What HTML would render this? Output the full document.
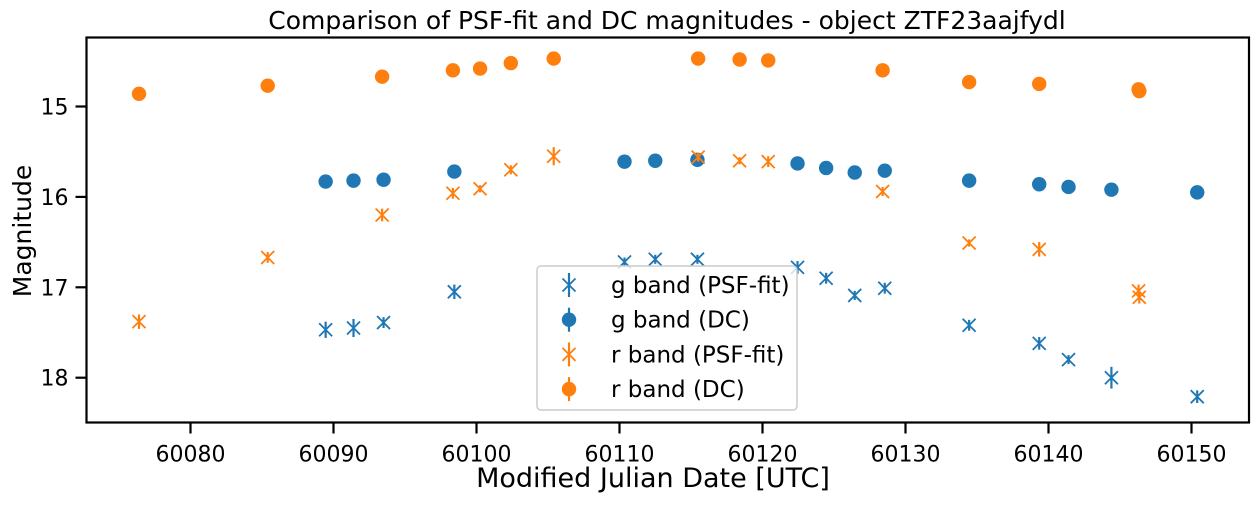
<!DOCTYPE html>
<html><head><meta charset="utf-8">
<style>
body{margin:0;background:#fff;}
svg text{font-family:"DejaVu Sans","Liberation Sans",sans-serif;}
</style></head>
<body>
<svg id="chart" width="1258" height="502" xmlns="http://www.w3.org/2000/svg">
<g id="plot"></g>
</svg>
<script>
const xTicks=[60080,60090,60100,60110,60120,60130,60140,60150];
const yTicks=[15,16,17,18];
const rDcX=[60076.4,60085.4,60093.4,60098.35,60100.25,60102.4,60105.4,60115.5,60118.4,60120.4,60128.4,60134.45,60139.35,60146.3,60146.35];
const rDcY=[14.86,14.77,14.67,14.60,14.58,14.52,14.47,14.47,14.48,14.49,14.60,14.73,14.75,14.81,14.83];
const gDcX=[60089.45,60091.4,60093.5,60098.45,60110.35,60112.5,60115.45,60122.45,60124.45,60126.45,60128.55,60134.45,60139.35,60141.4,60144.4,60150.4];
const gDcY=[15.83,15.82,15.81,15.72,15.61,15.60,15.59,15.63,15.68,15.73,15.71,15.82,15.86,15.89,15.92,15.95];
const gPsfY=[17.47,17.45,17.39,17.05,16.72,16.69,16.69,16.78,16.90,17.09,17.01,17.42,17.62,17.80,18.0,18.21];
const gPsfErr=[0.09,0.1,0.06,0.08,0.05,0.05,0.05,0.07,0.06,0.05,0.06,0.06,0.07,0.05,0.12,0.07];
const rPsfY=[17.38,16.67,16.20,15.96,15.91,15.70,15.55,15.56,15.60,15.61,15.94,16.51,16.58,17.04,17.11];
const rPsfErr=[0.08,0.06,0.07,0.06,0.04,0.05,0.1,0.05,0.04,0.06,0.05,0.04,0.08,0.07,0.07];
const L=86.5,R=1249,T=37.5,B=422.5;
const x0=60080,xpx0=190.5,xs=14.3;
const X=v=>xpx0+(v-x0)*xs;
const Y=v=>106.5+(v-15)*90.4;
const NS='http://www.w3.org/2000/svg';
const plot=document.getElementById('plot');
function mk(tag,attrs,parent){const e=document.createElementNS(NS,tag);for(const k in attrs)e.setAttribute(k,attrs[k]);(parent||plot).appendChild(e);return e;}
const BLUE='#1f77b4',ORANGE='#ff7f0e';
function xmark(cx,cy,err,col,name){
  const g=mk('g',{});
  
  
  mk('line',{x1:cx,x2:cx,y1:cy-err*90.4,y2:cy+err*90.4,stroke:col,'stroke-width':2.2},g);
  const s=6.5;
  mk('path',{d:`M${cx-s},${cy-s}L${cx+s},${cy+s}M${cx-s},${cy+s}L${cx+s},${cy-s}`,stroke:col,'stroke-width':1.8},g);
}
function dot(cx,cy,col,name){
  const c=mk('circle',{cx:cx,cy:cy,r:7.2,fill:col});
  
  
}
gDcX.forEach((d,i)=>xmark(X(d),Y(gPsfY[i]),gPsfErr[i],BLUE,'g-psf-point'));
gDcX.forEach((d,i)=>dot(X(d),Y(gDcY[i]),BLUE,'g-dc-point'));
rDcX.forEach((d,i)=>xmark(X(d),Y(rPsfY[i]),rPsfErr[i],ORANGE,'r-psf-point'));
rDcX.forEach((d,i)=>dot(X(d),Y(rDcY[i]),ORANGE,'r-dc-point'));
const fr=mk('rect',{x:L,y:T,width:R-L,height:B-T,fill:'none',stroke:'#000','stroke-width':2.2});


xTicks.forEach(t=>{
  const px=X(t);
  mk('line',{x1:px,x2:px,y1:B,y2:B+11,stroke:'#000','stroke-width':2.2});
  const tx=mk('text',{x:px,y:B+39,'font-size':22,'text-anchor':'middle',fill:'#000'});
  tx.textContent=t;
  
  
});
yTicks.forEach(t=>{
  const py=Y(t);
  mk('line',{x1:L-11,x2:L,y1:py,y2:py,stroke:'#000','stroke-width':2.2});
  const tx=mk('text',{x:L-18,y:py+8,'font-size':22,'text-anchor':'end',fill:'#000'});
  tx.textContent=t;
  
  
});
const title=mk('text',{x:667,y:29,'font-size':25,'text-anchor':'middle'});
title.textContent='Comparison of PSF-fit and DC magnitudes - object ZTF23aajfydl';


const xl=mk('text',{x:653,y:487,'font-size':27,'text-anchor':'middle'});
xl.textContent='Modified Julian Date [UTC]';


const yl=mk('text',{x:0,y:0,'font-size':25,'text-anchor':'middle',transform:'translate(31,231) rotate(-90)'});
yl.textContent='Magnitude';


const lg=mk('g',{});


mk('rect',{x:537,y:266,width:260,height:144,rx:4,fill:'rgba(255,255,255,0.8)',stroke:'#ccc','stroke-width':1.5},lg);
const entries=[['g band (PSF-fit)',BLUE,'x'],['g band (DC)',BLUE,'o'],['r band (PSF-fit)',ORANGE,'x'],['r band (DC)',ORANGE,'o']];
entries.forEach((e,i)=>{
  const cy=285+i*34.7, cx=569;
  const eg=mk('g',{},lg);
  
  
  mk('line',{x1:cx,x2:cx,y1:cy-12,y2:cy+12,stroke:e[1],'stroke-width':2.2},eg);
  if(e[2]==='x'){const s=6.5;mk('path',{d:`M${cx-s},${cy-s}L${cx+s},${cy+s}M${cx-s},${cy+s}L${cx+s},${cy-s}`,stroke:e[1],'stroke-width':1.8},eg);}
  else mk('circle',{cx:cx,cy:cy,r:7.2,fill:e[1]},eg);
  const t=mk('text',{x:611,y:cy+8,'font-size':23},eg);
  t.textContent=e[0];
});
</script>
</body></html>
